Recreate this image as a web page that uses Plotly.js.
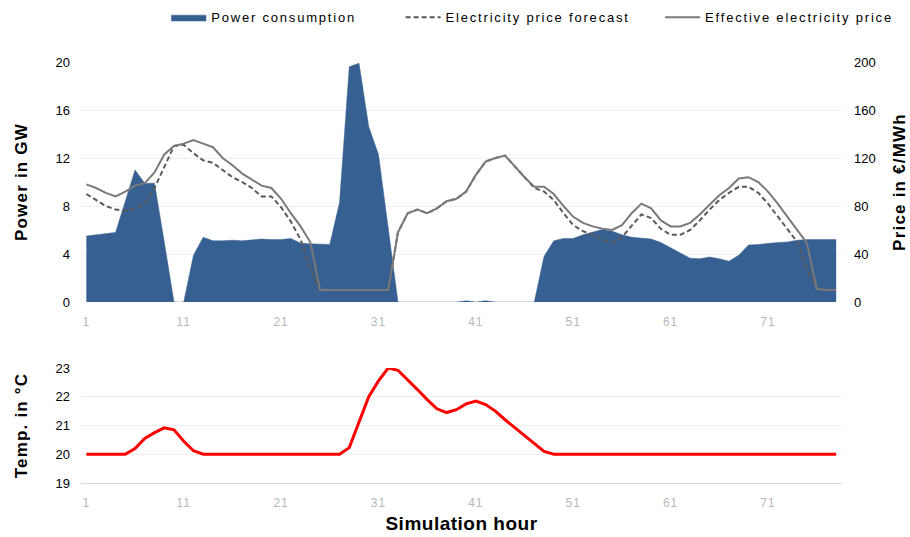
<!DOCTYPE html>
<html>
<head>
<meta charset="utf-8">
<script src="https://cdn.plot.ly/plotly-3.0.1.min.js"></script>
<style>
html,body{margin:0;padding:0;background:#fff;}
#chart{width:910px;height:537px;}
text.legendtext,text.legend2text,text.legend3text{letter-spacing:1.8px;}
text.ytitle,text.y2title,text.y3title{letter-spacing:1.2px;}
text.x2title{letter-spacing:0.5px;}
.xtick text,.x2tick text{letter-spacing:1px;}
</style>
</head>
<body>
<div id="chart"></div>
<script>
const hours = [1,2,3,4,5,6,7,8,9,10,11,12,13,14,15,16,17,18,19,20,21,22,23,24,25,26,27,28,29,30,31,32,33,34,35,36,37,38,39,40,41,42,43,44,45,46,47,48,49,50,51,52,53,54,55,56,57,58,59,60,61,62,63,64,65,66,67,68,69,70,71,72,73,74,75,76,77,78];

const powerGW = [5.5,5.6,5.7,5.8,8.4,11.0,9.9,9.9,5.0,0,0,3.9,5.4,5.1,5.1,5.15,5.1,5.2,5.25,5.2,5.2,5.3,4.9,4.85,4.8,4.8,8.3,19.6,19.9,14.6,12.3,6.2,0,0,0,0,0,0,0,0.1,0,0.1,0,0,0,0,0,3.8,5.1,5.3,5.3,5.6,5.85,6.05,5.9,5.6,5.4,5.3,5.25,4.95,4.5,4.1,3.65,3.6,3.75,3.6,3.4,3.9,4.75,4.8,4.9,4.95,5.0,5.15,5.2,5.2,5.2,5.2];

const priceForecast = [90,85,80,77,76,78,82,95,113,130,131,124,118,116,110,104,100,95,88,88,79,67,52,28,10,10,10,10,10,10,10,10,58,74,77,74,78,84,86,92,106,117,120,122,113,104,95,92,85,74,64,59,56,52,49,54,64,73,70,61,56,56,60,68,77,85,91,96,96,91,82,71,60,50,27,12,10,10];

const priceEffective = [98,95,91,88,92,97,99,108,123,130,132,135,132,129,120,114,107,102,97,95,86,74,63,50,10,10,10,10,10,10,10,10,58,74,77,74,78,84,86,92,106,117,120,122,113,104,96,96,90,80,71,66,63,61,60,64,74,82,78,68,63,63,66,73,81,89,95,103,104,100,92,82,71,60,49,11,10,10];

const tempC = [20,20,20,20,20,20.2,20.55,20.75,20.92,20.85,20.45,20.12,20,20,20,20,20,20,20,20,20,20,20,20,20,20,20,20.23,21.1,22.0,22.55,23.0,22.92,22.6,22.25,21.9,21.58,21.45,21.55,21.75,21.85,21.73,21.5,21.2,20.92,20.63,20.35,20.1,20,20,20,20,20,20,20,20,20,20,20,20,20,20,20,20,20,20,20,20,20,20,20,20,20,20,20,20,20,20];

const xTickVals = [1,11,21,31,41,51,61,71];
const xTickText = ['1','11','21','31','41','51','61','71'];
const powerTicks = [0,4,8,12,16,20];
const priceTicks = [0,40,80,120,160,200];
const tempTicks = [19,20,21,22,23];

const FONT = 'Liberation Sans, Arial, sans-serif';
const BLUE = '#376092';

const traces = [
  {x: hours, y: powerGW, name: 'Power consumption', type: 'scatter', mode: 'lines',
   fill: 'tozeroy', fillcolor: BLUE, line: {color: BLUE, width: 0.5},
   xaxis: 'x', yaxis: 'y', legend: 'legend', hoverinfo: 'skip'},
  {x: hours, y: priceForecast, name: 'Electricity price forecast', type: 'scatter', mode: 'lines',
   line: {color: '#595959', width: 2, dash: '5px,3px'},
   xaxis: 'x', yaxis: 'y2', legend: 'legend2'},
  {x: hours, y: priceEffective, name: 'Effective electricity price', type: 'scatter', mode: 'lines',
   line: {color: '#7a7a7a', width: 2},
   xaxis: 'x', yaxis: 'y2', legend: 'legend3'},
  {x: hours, y: tempC, name: 'Temperature', type: 'scatter', mode: 'lines',
   line: {color: '#ff0000', width: 3}, showlegend: false,
   xaxis: 'x2', yaxis: 'y3'}
];

const legendBase = {
  orientation: 'h', yanchor: 'middle', xanchor: 'left', y: 0.968,
  font: {family: FONT, size: 13, color: '#000'}, itemwidth: 35,
  bgcolor: 'rgba(0,0,0,0)', borderwidth: 0
};

const layout = {
  width: 910, height: 537,
  margin: {l: 81, r: 68, t: 0, b: 0},
  paper_bgcolor: '#fff', plot_bgcolor: '#fff',
  font: {family: FONT, size: 13, color: '#000'},
  showlegend: true,
  legend: Object.assign({}, legendBase, {x: 0.112}),
  legend2: Object.assign({}, legendBase, {x: 0.420}),
  legend3: Object.assign({}, legendBase, {x: 0.761}),
  xaxis: {
    domain: [0, 1], anchor: 'y', range: [0.45, 78.6],
    tickvals: xTickVals, ticktext: xTickText, ticks: '',
    tickfont: {family: FONT, size: 12, color: '#b8b8b8'},
    showgrid: false, zeroline: false, showline: false, ticklabelstandoff: 11
  },
  yaxis: {
    domain: [0.4376, 0.8845], range: [0, 20], tickvals: powerTicks,
    gridcolor: '#efefef', gridwidth: 1, zeroline: false, showline: false, ticks: '',
    tickfont: {family: FONT, size: 13, color: '#000'}, ticklabelstandoff: 10,
    title: {text: '<b>Power in GW</b>', font: {family: FONT, size: 17, color: '#000'}, standoff: 23}
  },
  yaxis2: {
    overlaying: 'y', side: 'right', anchor: 'x', range: [0, 200], tickvals: priceTicks,
    showgrid: false, zeroline: false, showline: false, ticks: '',
    tickfont: {family: FONT, size: 13, color: '#000'}, ticklabelstandoff: 11,
    title: {text: '<b>Price in €/MWh</b>', font: {family: FONT, size: 17, color: '#000'}, standoff: 18}
  },
  xaxis2: {
    domain: [0, 1], anchor: 'y3', range: [0.45, 78.6],
    tickvals: xTickVals, ticktext: xTickText, ticks: '',
    tickfont: {family: FONT, size: 12, color: '#b8b8b8'},
    showgrid: false, zeroline: false, showline: true, linecolor: '#d9d9d9', linewidth: 1,
    ticklabelstandoff: 9,
    title: {text: '<b>Simulation hour</b>', font: {family: FONT, size: 19, color: '#000'}, standoff: 7}
  },
  yaxis3: {
    domain: [0.1006, 0.3147], range: [19, 23], tickvals: tempTicks,
    gridcolor: '#efefef', gridwidth: 1, zeroline: false, showline: false, ticks: '',
    tickfont: {family: FONT, size: 13, color: '#000'}, ticklabelstandoff: 10,
    title: {text: '<b>Temp. in °C</b>', font: {family: FONT, size: 17, color: '#000'}, standoff: 23}
  }
};

Plotly.newPlot('chart', traces, layout, {displayModeBar: false, staticPlot: true});
</script>
</body>
</html>
